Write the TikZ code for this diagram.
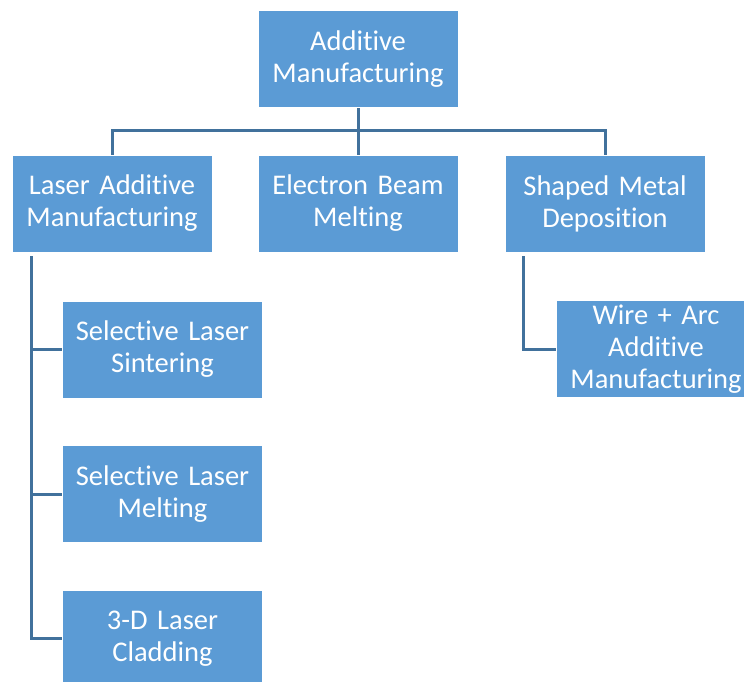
\documentclass[tikz,border=0pt]{standalone}
\usepackage{fontspec}
\setmainfont[Ligatures=NoCommon]{Carlito}
\usepackage{xcolor}
\usepackage{tikz}
\definecolor{boxblue}{HTML}{5B9BD5}
\definecolor{lineblue}{HTML}{41719C}
\tikzset{blk/.style={rectangle,fill=boxblue,draw=white,line width=1pt,minimum width=200pt,minimum height=97pt,text width=196pt,align=center,text=white,font=\fontsize{28.5}{32}\selectfont,inner sep=0pt}}
\tikzset{link/.style={draw=lineblue,line width=3pt}}

\begin{document}
\begin{tikzpicture}[x=1pt,y=-1pt]
        \clip (0,0) rectangle (744,682);
        \fill[white] (0,0) rectangle (744,682);

        \node[blk] (am) at (358,59.5) {Additive\\Manufacturing};
        \node[blk] (lam) at (112,203.5) {Laser Additive\\Manufacturing};
        \node[blk] (ebm) at (358,203.5) {Electron Beam\\Melting};
        \node[blk] (smd) at (605,203.5) {Shaped Metal\\Deposition};
        \node[blk] (sls) at (162.5,349.5) {Selective Laser\\Sintering};
        \node[blk] (slm) at (162.5,494) {Selective Laser\\Melting};
        \node[blk] (clad) at (162.5,638.5) {3-D Laser\\Cladding};
        \node[blk] (warc) at (656,349) {Wire + Arc\\Additive\\Manufacturing};

        \coordinate (bus) at (358,131);
        \coordinate (ltop) at (31,256);
        \coordinate (stop) at (523,256);

        \draw [link] (am) -- (ebm);
        \draw [link] (lam.north) |- (bus) -| (smd.north);
        \draw [link] (ltop) |- (clad.west);
        \draw [link] (ltop |- sls.west) -- (sls.west);
        \draw [link] (ltop |- slm.west) -- (slm.west);
        \draw [link] (stop) |- (warc.west);
    \end{tikzpicture}
\end{document}
